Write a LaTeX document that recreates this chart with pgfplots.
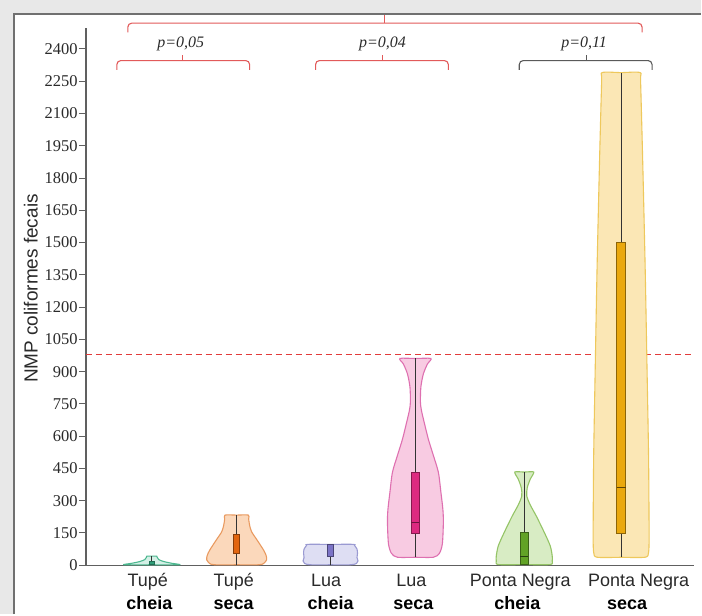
\documentclass[border=0pt]{standalone}
\usepackage{fontspec}
\setmainfont{Liberation Serif}
\newfontfamily\arial{Liberation Sans}
\usepackage{pgfplots}
\pgfplotsset{compat=1.18}
\definecolor{framegray}{HTML}{E8E8E8}
\definecolor{framedark}{HTML}{707070}
\definecolor{axgray}{HTML}{606060}
\definecolor{txt}{HTML}{2A2A2A}
\definecolor{whisk}{HTML}{333333}
\definecolor{brred}{HTML}{E25A5A}
\definecolor{brgray}{HTML}{5A5A5A}
\definecolor{dashred}{HTML}{E23B3B}
\definecolor{tealE}{HTML}{4DB890}\definecolor{tealF}{HTML}{D4F0E6}\definecolor{tealB}{HTML}{2E9E78}
\definecolor{orE}{HTML}{E99A60}\definecolor{orF}{HTML}{FBD8BB}\definecolor{orB}{HTML}{E2650F}
\definecolor{lavE}{HTML}{9A9AD2}\definecolor{lavF}{HTML}{DEDEF3}\definecolor{lavB}{HTML}{7B73C6}
\definecolor{pkE}{HTML}{DE70B0}\definecolor{pkF}{HTML}{F8CBE2}\definecolor{pkB}{HTML}{DD2A80}
\definecolor{grE}{HTML}{94C466}\definecolor{grF}{HTML}{D8ECC4}\definecolor{grB}{HTML}{62A326}
\definecolor{yeE}{HTML}{EEC85C}\definecolor{yeF}{HTML}{FBE7B5}\definecolor{yeB}{HTML}{EAA80E}
\begin{document}
\begin{tikzpicture}
\fill[framegray] (0,0) rectangle (702pt,-615pt);
\fill[white] (15pt,-15pt) rectangle (702pt,-615pt);
\draw[framedark, line width=2pt] (14pt,-615pt) -- (14pt,-14pt) -- (702pt,-14pt);
\node[rotate=90, font=\arial\fontsize{19}{19}\selectfont, text=txt] at (31pt,-289pt) {NMP coliformes fecais};
\begin{axis}[
  scale only axis, width=609pt, height=538pt,
  at={(86pt,-566pt)}, anchor=south west,
  xmin=0, xmax=609, ymin=0, ymax=2497.5,
  axis x line*=bottom, axis y line*=left,
  axis line style={draw=axgray, line width=1.3pt, -},
  xtick=\empty,
  ytick={0,150,...,2400},
  tick align=outside, major tick length=7pt,
  tick style={draw=axgray, line width=1pt},
  yticklabel style={font=\fontsize{16.5}{16.5}\selectfont, text=txt, inner sep=1.2pt},
  /pgf/number format/assume math mode=true,
  /pgf/number format/1000 sep={},
  clip=false,
  vio/.style={smooth, tension=0.45, line width=1.1pt},
  wh/.style={draw=whisk, line width=1pt},
]
% threshold line
\addplot[dashred, line width=1.3pt, dash pattern=on 6pt off 4pt] coordinates {(0,980) (609,980)};

% Tupe cheia
\addplot[vio, draw=tealE, fill=tealF] coordinates {(66,2) (94,2) (86,9) (78,17) (73,26) (71.5,36) (71,42) (66,42) (61,42) (60.5,36) (59,26) (54,17) (46,9) (38,2) (66,2)};
\addplot[wh] coordinates {(66,0) (66,42)};
\addplot[fill=tealB, draw=tealB!70!black, line width=0.6pt] coordinates {(63.5,6) (68.5,6) (68.5,20) (63.5,20)} -- cycle;

% Tupe seca
\addplot[vio, draw=orE, fill=orF] coordinates {(151,2) (173,2) (178,8) (181,25) (180.5,45) (178,70) (171,120) (166,155) (164,185) (163,215) (162.7,233) (151,233) (139.3,233) (139,215) (138,185) (136,155) (131,120) (124,70) (121.5,45) (121,25) (124,8) (129,2) (151,2)};
\addplot[wh] coordinates {(151,0) (151,233)};
\addplot[fill=orB, draw=orB!60!black, line width=0.7pt] coordinates {(148,55) (154,55) (154,145) (148,145)} -- cycle;

% Lua cheia
\addplot[vio, draw=lavE, fill=lavF] coordinates {(245,2) (265,2) (271,8) (272.5,20) (271.5,35) (272,55) (271.5,75) (269,92) (268,97) (245,97) (222,97) (221,92) (218.5,75) (218,55) (218.5,35) (217.5,20) (219,8) (225,2) (245,2)};
\addplot[wh] coordinates {(245,0) (245,97)};
\addplot[fill=lavB, draw=lavB!60!black, line width=0.7pt] coordinates {(242,42) (248,42) (248,95) (242,95)} -- cycle;

% Lua seca
\addplot[vio, draw=pkE, fill=pkF] coordinates {(330,37) (348,37) (354,55) (357,100) (358,200) (357.5,260) (355.5,340) (353,432) (348,510) (343,585) (339,660) (336,720) (335,760) (335.5,830) (338,890) (342,935) (345.5,961) (330,961) (314.5,961) (318,935) (322,890) (324.5,830) (325,760) (324,720) (321,660) (317,585) (312,510) (307,432) (304.5,340) (302.5,260) (302,200) (303,100) (306,55) (312,37) (330,37)};
\addplot[wh] coordinates {(330,37) (330,961)};
\addplot[fill=pkB, draw=pkB!60!black, line width=0.7pt] coordinates {(326,149) (334,149) (334,432) (326,432)} -- cycle;
\addplot[draw=pkB!50!black, line width=0.9pt] coordinates {(326,200) (334,200)};

% Ponta Negra cheia
\addplot[vio, draw=grE, fill=grF] coordinates {(439,3) (465,3) (467,20) (467,43) (465,90) (459,153) (451,229) (445,280) (441.5,322) (442,360) (445,400) (448.5,433) (439,433) (429.5,433) (433,400) (436,360) (436.5,322) (433,280) (427,229) (419,153) (413,90) (411,43) (411,20) (413,3) (439,3)};
\addplot[wh] coordinates {(439,0) (439,433)};
\addplot[fill=grB, draw=grB!60!black, line width=0.7pt] coordinates {(435,5) (443,5) (443,155) (435,155)} -- cycle;
\addplot[draw=grB!40!black, line width=0.9pt] coordinates {(435,43) (443,43)};

% Ponta Negra seca
\addplot[vio, draw=yeE, fill=yeF] coordinates {(536,37) (560,37) (563.5,60) (564,150) (563.5,500) (562,900) (560,1400) (557.5,1900) (555.5,2250) (555,2290) (536,2290) (517,2290) (516.5,2250) (514.5,1900) (512,1400) (510,900) (508.5,500) (508,150) (508.5,60) (512,37) (536,37)};
\addplot[wh] coordinates {(536,37) (536,2290)};
\addplot[fill=yeB, draw=yeB!60!black, line width=0.7pt] coordinates {(531.5,149) (540.5,149) (540.5,1500) (531.5,1500)} -- cycle;
\addplot[draw=yeB!40!black, line width=0.9pt] coordinates {(531.5,362) (540.5,362)};

% brackets
\addplot[brred, line width=1.1pt, rounded corners=4pt] coordinates {(42,2477) (42,2520) (557,2520) (557,2477)};
\addplot[brred, line width=1.1pt] coordinates {(299,2520) (299,2558)};
\addplot[brred, line width=1.1pt, rounded corners=4pt] coordinates {(31,2302.5) (31,2346) (164,2346) (164,2302.5)};
\addplot[brred, line width=1.1pt] coordinates {(97,2346) (97,2372)};
\addplot[brred, line width=1.1pt, rounded corners=4pt] coordinates {(230,2302.5) (230,2346) (363,2346) (363,2302.5)};
\addplot[brred, line width=1.1pt] coordinates {(297,2346) (297,2372)};
\addplot[brgray, line width=1.1pt, rounded corners=4pt] coordinates {(434,2302.5) (434,2346) (567,2346) (567,2302.5)};
\addplot[brgray, line width=1.1pt] coordinates {(501,2346) (501,2372)};

\node[font=\itshape\fontsize{16}{16}\selectfont, text=txt] at (axis cs:95,2423) {p=0,05};
\node[font=\itshape\fontsize{16}{16}\selectfont, text=txt] at (axis cs:297,2423) {p=0,04};
\node[font=\itshape\fontsize{16}{16}\selectfont, text=txt] at (axis cs:499,2423) {p=0,11};

% category labels
\begin{scope}[every node/.style={font=\arial\fontsize{18}{18}\selectfont, anchor=base}]
\node[text=txt] at ([yshift=-21pt]axis cs:62,0) {Tupé};
\node[text=black, font=\arial\bfseries\fontsize{18}{18}\selectfont] at ([yshift=-44pt]axis cs:63.5,0) {cheia};
\node[text=txt] at ([yshift=-21pt]axis cs:148,0) {Tupé};
\node[text=black, font=\arial\bfseries\fontsize{18}{18}\selectfont] at ([yshift=-44pt]axis cs:148,0) {seca};
\node[text=txt] at ([yshift=-21pt]axis cs:240.5,0) {Lua};
\node[text=black, font=\arial\bfseries\fontsize{18}{18}\selectfont] at ([yshift=-44pt]axis cs:245,0) {cheia};
\node[text=txt] at ([yshift=-21pt]axis cs:326,0) {Lua};
\node[text=black, font=\arial\bfseries\fontsize{18}{18}\selectfont] at ([yshift=-44pt]axis cs:328,0) {seca};
\node[text=txt] at ([yshift=-21pt]axis cs:435,0) {Ponta Negra};
\node[text=black, font=\arial\bfseries\fontsize{18}{18}\selectfont] at ([yshift=-44pt]axis cs:432,0) {cheia};
\node[text=txt] at ([yshift=-21pt]axis cs:553.5,0) {Ponta Negra};
\node[text=black, font=\arial\bfseries\fontsize{18}{18}\selectfont] at ([yshift=-44pt]axis cs:542,0) {seca};
\end{scope}
\end{axis}
\end{tikzpicture}
\end{document}
